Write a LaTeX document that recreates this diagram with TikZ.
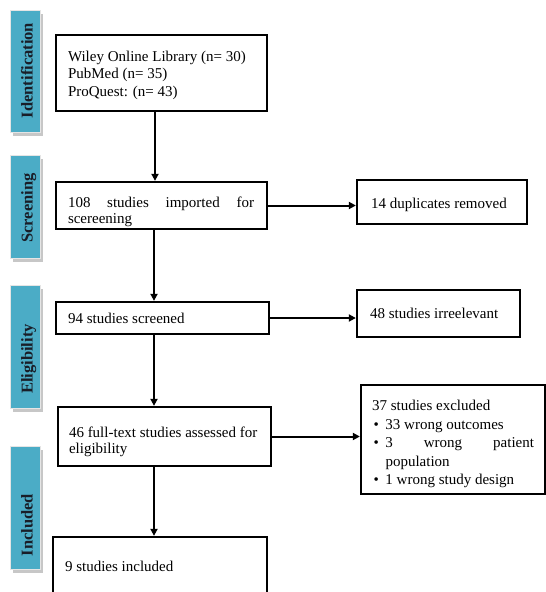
\documentclass[tikz,border=0pt]{standalone}
\usepackage{fontspec}
\setmainfont{Liberation Serif}
\usetikzlibrary{arrows.meta,shadows}
\definecolor{barteal}{RGB}{75,172,198}
\definecolor{bartext}{RGB}{25,30,40}
\newcommand{\upstrut}[1]{\rule{0pt}{#1}}
\begin{document}
\begin{tikzpicture}[x=1pt,y=-1pt,
  box/.style={draw=black, line width=2.3pt, rectangle, align=justify, inner ysep=0pt,
    font=\fontsize{15}{17.5}\selectfont,
    execute at begin node={\spaceskip=0pt\xspaceskip=0pt\hyphenpenalty=10000\relax}},
  bar/.style={rectangle, fill=barteal, draw=white!80!gray, line width=0.8pt,
    minimum width=30pt, inner sep=0pt,
    drop shadow={shadow xshift=2.5pt, shadow yshift=-3.5pt, fill=black!22, opacity=1}},
  barlabel/.style={rotate=90, anchor=base, inner sep=0pt, text=bartext,
    font=\fontsize{16.5}{18}\selectfont\bfseries},
  arr/.style={line width=2pt, -{Triangle[length=7pt,width=7pt]}}
]
\useasboundingbox (0,0) rectangle (546,592);

% phase bars
\node[bar, minimum height=122pt] (idb) at (25,71) {};
\node[bar, minimum height=103pt] (scb) at (25,206.5) {};
\node[bar, minimum height=123pt] (elb) at (25,346.5) {};
\node[bar, minimum height=123pt] (inb) at (25,507.5) {};
\node[barlabel] (idl) at (32.5,70.5) {Identification};
\node[barlabel] (scl) at (32.5,208) {Screening};
\node[barlabel] (ell) at (32.5,359) {Eligibility};
\node[barlabel] (inl) at (32.5,525) {Included};

% main column
\node[box, minimum width=211pt, minimum height=76pt, text width=187pt, inner xsep=12pt]
  (src) at (161.5,73) {\upstrut{14.5pt}Wiley Online Library (n= 30)\\PubMed (n= 35)\\ProQuest: (n= 43)};
\node[box, minimum width=211pt, minimum height=47pt, text width=187pt, inner xsep=12pt,
  font=\fontsize{15}{16.5}\selectfont]
  (imp) at (161.5,205.5) {\upstrut{23pt}\makebox[186pt][s]{108 studies imported for}\\scereening};
\node[box, minimum width=213pt, minimum height=32pt, text width=189pt, inner xsep=12pt]
  (scr) at (162.5,318) {\upstrut{11.5pt}94 studies screened};
\node[box, minimum width=213pt, minimum height=59pt, text width=191pt, inner xsep=11pt,
  font=\fontsize{15}{16.5}\selectfont]
  (full) at (164.5,436.5) {\upstrut{21pt}\mbox{46 full-text studies assessed for}\\eligibility};
\node[box, minimum width=214pt, minimum height=58pt, text width=190pt, inner xsep=12pt]
  (incl) at (160,566) {9 studies included};

% side column
\node[box, minimum width=170pt, minimum height=44pt, text width=142pt, inner xsep=14pt]
  (dup) at (442,202) {\upstrut{16pt}14 duplicates removed};
\node[box, minimum width=163pt, minimum height=47pt, text width=137pt, inner xsep=13pt]
  (irr) at (438.5,313.5) {\upstrut{11pt}48 studies irreelevant};
\node[box, minimum width=184pt, minimum height=109pt, text width=162pt, inner xsep=11pt,
  font=\fontsize{15}{18.5}\selectfont]
  (excl) at (453,439.5) {\upstrut{20pt}37 studies excluded\\
  \hspace*{1.5pt}\makebox[12pt][l]{\textbullet}33 wrong outcomes\\
  \hspace*{1.5pt}\makebox[12pt][l]{\textbullet}\makebox[148.5pt][s]{3 wrong patient}\\
  \hspace*{13.5pt}population\\
  \hspace*{1.5pt}\makebox[12pt][l]{\textbullet}1 wrong study design};

% connectors
\coordinate (ax1) at (155,0);
\coordinate (ax2) at (154,0);
\draw[arr] (src.south -| ax1) -- (imp.north -| ax1);
\draw[arr] (imp.south -| ax2) -- (scr.north -| ax2);
\draw[arr] (scr.south -| ax2) -- (full.north -| ax2);
\draw[arr] (full.south -| ax2) -- (incl.north -| ax2);
\draw[arr] (imp.east) -- (imp.east -| dup.west);
\draw[arr] (scr.east) -- (scr.east -| irr.west);
\draw[arr] (full.east) -- (full.east -| excl.west);
\end{tikzpicture}
\end{document}
